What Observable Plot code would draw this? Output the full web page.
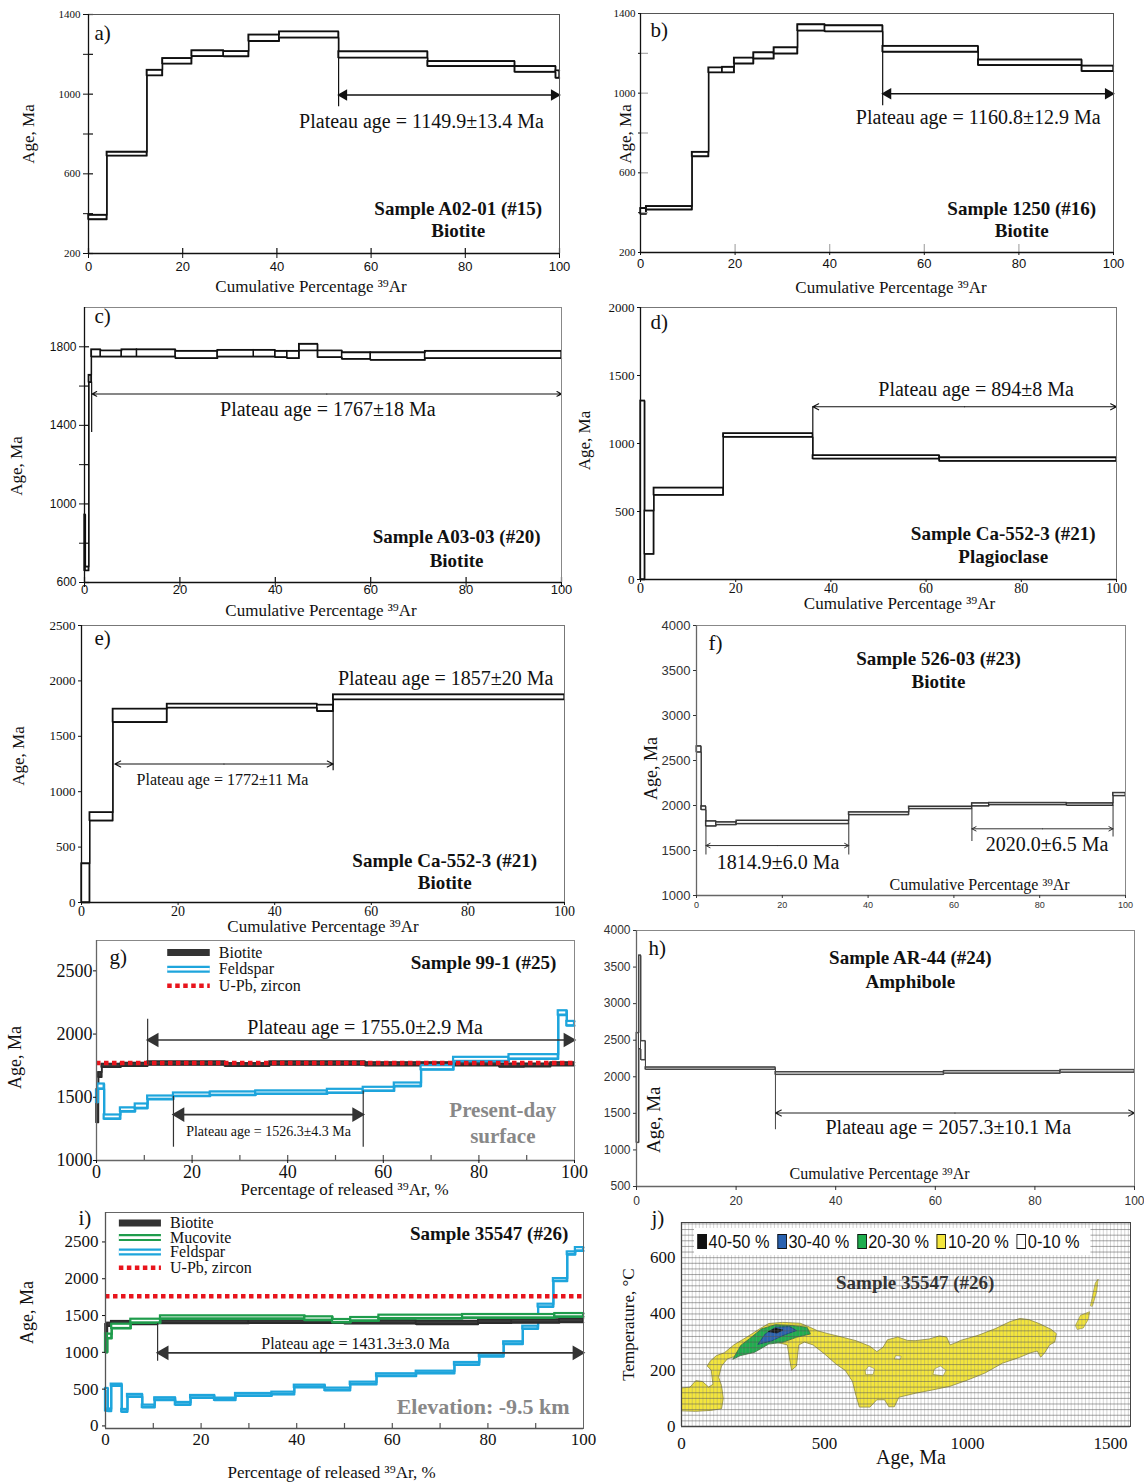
<!DOCTYPE html>
<html><head><meta charset="utf-8">
<script src="https://cdn.jsdelivr.net/npm/d3@7"></script>
<script src="https://cdn.jsdelivr.net/npm/@observablehq/plot@0.6"></script>
<style>
html,body{margin:0;padding:0;background:#fff}
body{position:relative;width:1144px;height:1482px;overflow:hidden}
.lg{position:absolute;display:flex;align-items:center;background:#fff;font-family:'Liberation Sans',Arial,sans-serif;font-size:19px;color:#111;white-space:nowrap;padding:0 4px;transform:scaleX(0.86);transform-origin:0 50%}
.lg .sq{display:inline-block;flex:0 0 auto;width:11px;height:15px;border:1px solid #111;margin-right:2px;box-sizing:border-box}
.lg .it{flex:0 0 auto;margin-right:9px}
</style></head><body>
<script>
const SERIF = "'Liberation Serif','Times New Roman',serif";
const SANS = "'Liberation Sans',Arial,sans-serif";

// ---------- common tick lists ----------
const pctTicks = [0, 20, 40, 60, 80, 100];
const pctMinor = [10, 20, 30, 40, 50, 60, 70, 80, 90];

// ---------- a) Sample A02-01 ----------
const aX  = [0, 3.9, 12.4, 15.7, 21.9, 28.7, 34, 40.5, 53.1, 72, 90.5, 99.2, 100];
const aHi = [393, 710, 1121, 1180, 1219, 1215, 1298, 1314, 1214, 1165, 1140, 1118];
const aLo = [371, 690, 1093, 1152, 1190, 1189, 1266, 1283, 1182, 1140, 1111, 1081];
const aArrow = [53.1, 100, 996];
const aVert = [[53.1, 937, 1182]];
const aNote = [[70.7, 862, "Plateau age = 1149.9±13.4 Ma"]];
const aTitle = [[78.5, 425, "Sample A02-01 (#15)"], [78.5, 315, "Biotite"]];
const aYTicks = [200, 400, 600, 800, 1000, 1200, 1400];
const aYLab = [200, 600, 1000, 1400];

// ---------- b) Sample 1250 ----------
const bX  = [0, 1.2, 10.9, 14.4, 17.3, 19.8, 23.9, 28.2, 33.2, 39, 51.2, 71.4, 93.3, 100];
const bHi = [422, 432, 704, 1128, 1131, 1177, 1204, 1229, 1345, 1340, 1236, 1168, 1137];
const bLo = [393, 415, 682, 1103, 1103, 1148, 1173, 1198, 1313, 1309, 1207, 1140, 1110];
const bArrow = [51.2, 100, 997];
const bVert = [[51.2, 937, 1207]];
const bNote = [[71.4, 877, "Plateau age = 1160.8±12.9 Ma"]];
const bTitle = [[80.6, 420, "Sample 1250 (#16)"], [80.6, 310, "Biotite"]];

// ---------- c) Sample A03-03 ----------
const cX  = [0, 0.2, 0.9, 1.45, 3.4, 7.8, 11, 19.1, 27.9, 35.5, 40, 42.5, 45, 48.9, 54, 60, 71.4, 100];
const cHi = [945, 680, 1656, 1786, 1780, 1786, 1786, 1778, 1783, 1783, 1778, 1778, 1814, 1780, 1771, 1771, 1778];
const cLo = [660, 660, 1619, 1749, 1749, 1749, 1749, 1741, 1749, 1749, 1746, 1741, 1780, 1746, 1737, 1732, 1741];
const cArrow = [1.6, 100, 1560];
const cVert = [[1.5, 1364, 1619]];
const cNote = [[51, 1479, "Plateau age = 1767±18 Ma"]];
const cTitle = [[78, 830, "Sample A03-03 (#20)"], [78, 712, "Biotite"]];
const cYTicks = [600, 800, 1000, 1200, 1400, 1600, 1800];
const cYLab = [600, 1000, 1400, 1800];

// ---------- d) Sample Ca-552-3 plagioclase ----------
const dX  = [0, 0.9, 2.8, 17.4, 36.2, 62.8, 100];
const dHi = [1314, 505, 674, 1074, 912, 897];
const dLo = [0, 186, 620, 1047, 887, 870];
const dArrow = [36.2, 100, 1270];
const dVert = [[36.2, 1074, 1270]];
const dNote = [[70.5, 1397, "Plateau age = 894±8 Ma"]];
const dTitle = [[76.2, 338, "Sample Ca-552-3 (#21)"], [76.2, 167, "Plagioclase"]];

// ---------- e) Sample Ca-552-3 biotite ----------
const eX  = [0, 1.7, 6.5, 17.7, 48.8, 52.1, 100];
const eHi = [352, 813, 1747, 1792, 1783, 1877];
const eLo = [0, 738, 1627, 1756, 1726, 1831];
const eArrow = [6.9, 52.1, 1250];
const eVert = [[52.1, 1190, 1831]];
const eNoteSmall = [[29.2, 1105, "Plateau age = 1772±11 Ma"]];
const eNoteBig = [[75.4, 2018, "Plateau age = 1857±20 Ma"]];
const eTitle = [[75.2, 377, "Sample Ca-552-3 (#21)"], [75.2, 181, "Biotite"]];

// ---------- f) Sample 526-03 ----------
const fX  = [0, 1.1, 2.2, 4.6, 9.3, 35.5, 49.5, 64.2, 68.2, 86.3, 97.1, 100];
const fHi = [2659, 1992, 1826, 1815, 1833, 1926, 1989, 2026, 2030, 2026, 2141];
const fLo = [2592, 1952, 1770, 1785, 1796, 1896, 1963, 1993, 2007, 2000, 2107];
const fArrows = [[2.2, 35.5, 1555], [64.2, 97.1, 1741]];
const fVert = [[2.2, 1450, 1770], [35.5, 1450, 1796], [64.2, 1600, 1963], [97.1, 1650, 2000]];
const fNote = [[19, 1363, "1814.9±6.0 Ma"], [81.7, 1570, "2020.0±6.5 Ma"]];
const fTitle = [[56.4, 3630, "Sample 526-03 (#23)"], [56.4, 3378, "Biotite"]];
const fXTitle = [[66, 1118, "Cumulative Percentage ³⁹Ar"]];
const fYTicks = [1000, 1500, 2000, 2500, 3000, 3500, 4000];

// ---------- g) Sample 99-1 ----------
const gBX  = [0, 0.4, 1.1, 5.1, 10.7, 26.9, 36.2, 56.2, 84.3, 89.5, 95, 100];
const gBHi = [1560, 1697, 1763, 1771, 1782, 1768, 1782, 1775, 1765, 1765, 1775];
const gBLo = [1300, 1658, 1737, 1745, 1755, 1745, 1755, 1750, 1740, 1742, 1750];
const gFX  = [0, 0.3, 1.6, 5, 8.1, 10.7, 16.1, 23.8, 33.3, 48.3, 55.8, 62.3, 67.9, 74.7, 86.3, 96.6, 98.4, 100];
const gFHi = [1553, 1605, 1360, 1416, 1447, 1510, 1534, 1542, 1550, 1563, 1579, 1613, 1750, 1816, 1837, 2184, 2100];
const gFLo = [1460, 1566, 1329, 1387, 1413, 1484, 1508, 1516, 1526, 1534, 1550, 1587, 1718, 1784, 1803, 2150, 2066];
const gZircon = [1772];
const gArrow1 = [10.7, 100, 1953];
const gArrow2 = [16.1, 55.8, 1363];
const gVert = [[10.7, 1755, 2118], [16.1, 1105, 1508], [55.8, 1105, 1550]];
const gNoteBig = [[56.2, 2053, "Plateau age = 1755.0±2.9 Ma"]];
const gNoteSmall = [[36, 1232, "Plateau age = 1526.3±4.3 Ma"]];
const gGray = [[85, 1400, "Present-day"], [85, 1195, "surface"]];
const gTitle = [[96.2, 2566, "Sample 99-1 (#25)"]];
const gLegend = [["Biotite", 2645, "bio"], ["Feldspar", 2513, "fsp"], ["U-Pb, zircon", 2382, "zr"]];
const gLegX = [14.9, 23.8, 25.6];

// ---------- h) Sample AR-44 ----------
const hX  = [0, 0.5, 0.9, 1.8, 27.9, 61.7, 85.1, 100];
const hHi = [2600, 3660, 2490, 2130, 2065, 2080, 2095];
const hLo = [1100, 2380, 2230, 2100, 2030, 2047, 2060];
const hArrow = [27.9, 100, 1504];
const hVert = [[27.9, 1276, 2030]];
const hNote = [[62.6, 1300, "Plateau age = 2057.3±10.1 Ma"]];
const hTitle = [[55, 3621, "Sample AR-44 (#24)"], [55, 3302, "Amphibole"]];
const hXTitle = [[48.8, 669, "Cumulative Percentage ³⁹Ar"]];
const hYTitle = [[3.5, 1413, "Age, Ma"]];
const hYTicks = [500, 1000, 1500, 2000, 2500, 3000, 3500, 4000];

// ---------- i) Sample 35547 ----------
const iBX  = [0, 0.4, 1.2, 10.9, 30, 50, 65, 78, 85, 95, 100];
const iBHi = [1380, 1400, 1423, 1437, 1440, 1432, 1425, 1440, 1445, 1455];
const iBLo = [1000, 1355, 1378, 1391, 1395, 1388, 1380, 1395, 1400, 1405];
const iMX  = [0, 0.4, 1.3, 5.3, 11.5, 41.7, 47.5, 51.3, 57.2, 74.7, 94, 100];
const iMHi = [1250, 1247, 1382, 1450, 1495, 1482, 1446, 1473, 1505, 1514, 1527];
const iMLo = [1000, 1188, 1324, 1400, 1455, 1437, 1405, 1428, 1459, 1468, 1482];
const iFX  = [0, 0.5, 1.2, 3.4, 4.6, 7.7, 10.3, 14.6, 17.8, 22.8, 27.2, 34.8, 39.5, 45.9, 51.2, 56.7, 65, 73, 78.2, 83.3, 87.3, 90.5, 93.7, 96.6, 98.3, 100];
const iFHi = [509, 230, 568, 224, 428, 283, 382, 319, 414, 378, 441, 459, 554, 514, 595, 708, 744, 862, 975, 1143, 1355, 1654, 2002, 2364, 2423];
const iFLo = [206, 200, 545, 192, 396, 251, 351, 287, 382, 350, 409, 427, 523, 482, 563, 676, 713, 830, 943, 1111, 1319, 1618, 1966, 2328, 2378];
const iZircon = [1762];
const iArrow = [10.9, 100, 993];
const iVert = [[10.9, 880, 1391]];
const iNote = [[52.3, 1120, "Plateau age = 1431.3±3.0 Ma"]];
const iGray = [[79, 260, "Elevation: -9.5 km"]];
const iTitle = [[96.8, 2613, "Sample 35547 (#26)"]];
const iLegend = [["Biotite", 2758, "bio"], ["Mucovite", 2559, "mus"], ["Feldspar", 2364, "fsp"], ["U-Pb, zircon", 2150, "zr"]];
const iLegX = [2.9, 11.7, 13.5];
const iYTicks = [0, 500, 1000, 1500, 2000, 2500];

// ---------- j) age–temperature contour map ----------
const jYellow = [[0,57],[0,137],[30,140],[50,163],[73,160],[95,140],[110,150],[104,200],[90,215],[100,232],[122,252],[150,262],[183,290],[232,320],[270,345],[305,366],[354,370],[415,367],[451,352],[476,340],[512,330],[560,318],[610,305],[659,285],[683,266],[705,282],[720,308],[756,318],[790,306],[817,305],[866,311],[902,322],[927,318],[939,290],[960,298],[976,306],[1037,324],[1098,348],[1147,372],[1183,384],[1214,380],[1250,366],[1293,345],[1311,330],[1305,300],[1287,290],[1270,262],[1256,246],[1244,268],[1220,262],[1183,246],[1122,225],[1061,190],[1000,165],[939,143],[878,130],[817,118],[760,104],[744,70],[725,70],[710,95],[683,95],[659,69],[622,69],[610,110],[598,160],[573,199],[540,222],[500,258],[460,290],[430,300],[410,290],[402,215],[385,200],[378,240],[370,290],[330,300],[290,305],[256,290],[220,270],[183,248],[160,240],[140,215],[130,175],[140,145],[146,100],[140,63],[100,57],[50,54]];
const jHoles = [
  [[645,185],[670,185],[675,205],[655,215],[643,200]],
  [[880,185],[915,180],[925,200],[905,215],[885,205]],
  [[745,240],[765,238],[768,250],[750,252]]
];
const jSmall = [
  [[1378,360],[1395,395],[1427,408],[1422,380],[1405,350],[1385,345]],
  [[1430,430],[1447,510],[1457,524],[1452,480],[1437,428]]
];
const jGreen = [[180,240],[207,288],[244,317],[280,347],[329,362],[384,359],[439,353],[451,329],[402,317],[354,299],[305,293],[256,264],[207,252]];
const jBlue = [[268,293],[293,329],[329,353],[378,355],[402,341],[354,323],[317,305]];
const jBlack = [[305,338],[329,349],[354,343],[335,333]];
const jTitle = [[817, 512, "Sample 35547 (#26)"]];
const jGridT = d3.range(0, 725, 20);
const jGridA = d3.range(0, 1570, 12.5);
const jLegend = [["40-50 %", "#111"], ["30-40 %", "#2a62b0"], ["20-30 %", "#1fae4e"], ["10-20 %", "#f4e63c"], ["0-10 %", "#fff"]];

// ================= helpers =================
function stepMarks(xb, hi, lo, o = {}) {
  const stroke = o.stroke ?? "#111", sw = o.sw ?? 1.3, fill = o.fill ?? "none";
  const rows = hi.map((h, i) => ({x1: xb[i], x2: xb[i + 1], hi: h, lo: lo[i]}));
  const env = arr => xb.map((x, i) => ({x, y: arr[Math.min(i, arr.length - 1)]}));
  return [
    Plot.line(env(hi), {x: "x", y: "y", curve: "step-after", stroke, strokeWidth: sw}),
    Plot.line(env(lo), {x: "x", y: "y", curve: "step-after", stroke, strokeWidth: sw}),
    Plot.rect(rows, {x1: "x1", x2: "x2", y1: "lo", y2: "hi", fill, stroke, strokeWidth: sw})
  ];
}
function vrules(rows, o = {}) {
  return Plot.ruleX(rows, {x: d => d[0], y1: d => d[1], y2: d => d[2], stroke: o.stroke ?? "#111", strokeWidth: o.sw ?? 1.2});
}
function arrowFilled(row, o = {}) {
  const col = o.color ?? "#111", r = o.r ?? 5.5;
  return [
    Plot.ruleY([row], {y: d => d[2], x1: d => d[0], x2: d => d[1], stroke: col, strokeWidth: o.sw ?? 1.6}),
    Plot.dot([row], {x: d => d[0], y: d => d[2], symbol: "triangle2", rotate: -90, r, fill: col, stroke: "none", dx: r * 0.95}),
    Plot.dot([row], {x: d => d[1], y: d => d[2], symbol: "triangle2", rotate: 90, r, fill: col, stroke: "none", dx: -r * 0.95})
  ];
}
function arrowsOpen(rows, o = {}) {
  const opt = {y1: d => d[2], y2: d => d[2], stroke: o.color ?? "#111", strokeWidth: o.sw ?? 1.1, headLength: o.head ?? 9, headAngle: 55};
  return [
    Plot.arrow(rows, {...opt, x1: d => (d[0] + d[1]) / 2, x2: d => d[0]}),
    Plot.arrow(rows, {...opt, x1: d => (d[0] + d[1]) / 2, x2: d => d[1]})
  ];
}
function txt(rows, o = {}) {
  return Plot.text(rows, {x: d => d[0], y: d => d[1], text: d => d[2], fontFamily: o.ff ?? SERIF, fontSize: o.fs ?? 20, fontWeight: o.fw ?? "normal", fill: o.fill ?? "#111", textAnchor: o.anchor ?? "middle", lineAnchor: "middle", rotate: o.rotate ?? 0});
}
function legendMarks(rows, lx) {
  const m = [];
  for (const [label, y, kind] of rows) {
    const r = [[lx[0], lx[1], y]];
    const rule = (stroke, sw, dash) => Plot.ruleY(r, {y: d => d[2], x1: d => d[0], x2: d => d[1], stroke, strokeWidth: sw, strokeDasharray: dash});
    if (kind === "bio") m.push(rule("#333", 7));
    if (kind === "fsp") { m.push(rule("#1ea5dc", 7)); m.push(rule("#fff", 2.6)); }
    if (kind === "mus") { m.push(rule("#1f9c4c", 7)); m.push(rule("#fff", 2.6)); }
    if (kind === "zr") m.push(rule("#e8141c", 4.5, "4.5,3.5"));
    m.push(Plot.text([[lx[2], y, label]], {x: d => d[0], y: d => d[1], text: d => d[2], textAnchor: "start", lineAnchor: "middle", fontFamily: SERIF, fontSize: 16, fill: "#111"}));
  }
  return m;
}
function poly(pts, fill, stroke, sw = 0.8) {
  return Plot.line(pts, {x: d => d[0], y: d => d[1], curve: "linear-closed", fill, stroke, strokeWidth: sw});
}

function panel(c) {
  const [L, T, R, B] = c.frame;
  const fw = R - L, fh = B - T;
  const mL = 100, mR = 30, mT = 30, mB = 70;
  const tc = c.tickColor ?? "#111";
  const m = [...c.marks];
  if (c.innerX) m.push(Plot.tickX(c.innerX, {x: d => d, insetTop: fh - (c.innerLen ?? 5), stroke: c.innerColor ?? tc, strokeWidth: 1.2}));
  if (c.innerY) m.push(Plot.tickY(c.innerY, {y: d => d, insetRight: fw - (c.innerLen ?? 5), stroke: c.innerColor ?? tc, strokeWidth: 1.2}));
  m.push(Plot.frame({stroke: c.frameColor ?? "#555", strokeWidth: 1}));
  m.push(Plot.ruleX([c.xd[0]], {stroke: c.axisColor ?? "#111", strokeWidth: 1.3}));
  m.push(Plot.ruleY([c.yd[0]], {stroke: c.axisColor ?? "#111", strokeWidth: 1.3}));
  const fmt = lab => d => (lab ? (lab.includes(d) ? String(d) : "") : String(d));
  m.push(Plot.axisX({ticks: c.xt, tickSize: c.xts ?? 5, tickPadding: c.xtp ?? 3, tickFormat: fmt(c.xlab), fontSize: c.xfs, fontFamily: c.xff, color: tc, label: null}));
  m.push(Plot.axisY({ticks: c.yt, tickSize: c.yts ?? 5, tickPadding: c.ytp ?? 3, tickFormat: fmt(c.ylab), fontSize: c.yfs, fontFamily: c.yff, color: tc, label: null}));
  if (c.xTitle) m.push(Plot.text([c.xTitle[0]], {text: d => d, frameAnchor: "bottom", textAnchor: "middle", lineAnchor: "middle", dx: c.xTitle[1], dy: c.xTitle[2], fontSize: c.xTitle[3], fontFamily: SERIF, fill: "#111"}));
  if (c.yTitle) m.push(Plot.text([c.yTitle[0]], {text: d => d, frameAnchor: "left", textAnchor: "middle", lineAnchor: "middle", rotate: -90, dx: c.yTitle[1], dy: c.yTitle[2], fontSize: c.yTitle[3], fontFamily: SERIF, fill: "#111"}));
  if (c.tag) m.push(Plot.text([c.tag[0]], {text: d => d, frameAnchor: "top-left", textAnchor: "start", lineAnchor: "middle", dx: c.tag[1], dy: c.tag[2], fontSize: c.tag[3] ?? 21, fontFamily: SERIF, fill: "#111"}));
  const svg = Plot.plot({
    width: fw + mL + mR, height: fh + mT + mB,
    marginLeft: mL, marginRight: mR, marginTop: mT, marginBottom: mB,
    x: {domain: c.xd}, y: {domain: c.yd},
    style: {overflow: "visible", background: "transparent", fontFamily: SANS},
    marks: m
  });
  svg.style.position = "absolute";
  svg.style.left = (L - mL) + "px";
  svg.style.top = (T - mT) + "px";
  document.body.appendChild(svg);
}

const XT = "Cumulative Percentage ³⁹Ar";
const XT2 = "Percentage of released ³⁹Ar, %";
const bold = {fw: "bold", fs: 19};

// a
panel({frame: [88, 14, 559, 253], xd: [0, 100], yd: [200, 1400],
  xt: pctTicks, xfs: 13, xff: SANS, yt: aYTicks, ylab: aYLab, yfs: 11, yff: SERIF, yts: 5,
  innerX: pctTicks, innerY: aYTicks, innerLen: 5,
  xTitle: [XT, -13, 33, 17], yTitle: ["Age, Ma", -60, 0, 17], tag: ["a)", 6, 19, 21],
  marks: [...stepMarks(aX, aHi, aLo, {sw: 1.4}), vrules(aVert), ...arrowFilled(aArrow), txt(aNote), txt(aTitle, bold)]});

// b
panel({frame: [640, 13, 1113, 252], xd: [0, 100], yd: [200, 1400],
  xt: pctTicks, xfs: 13, xff: SANS, xts: 3, yt: aYTicks, ylab: aYLab, yfs: 11, yff: SERIF, yts: 2,
  innerX: pctTicks.slice(1, 5), innerY: aYTicks.slice(1, 6), innerLen: 8, innerColor: "#aaa",
  xTitle: [XT, 14, 35, 17], yTitle: ["Age, Ma", -15, 1, 17], tag: ["b)", 10, 17, 21],
  marks: [...stepMarks(bX, bHi, bLo, {sw: 1.4}), vrules(bVert), ...arrowFilled(bArrow), txt(bNote), txt(bTitle, bold)]});

// c
panel({frame: [84, 307, 561, 582], xd: [0, 100], yd: [600, 2000],
  xt: pctTicks, xfs: 13, xff: SANS, xts: 5, xtp: -3, yt: cYTicks, ylab: cYLab, yfs: 12, yff: SANS, yts: 5,
  innerX: pctTicks, innerY: cYTicks, innerLen: 5, frameColor: "#888",
  xTitle: [XT, -2, 28, 17], yTitle: ["Age, Ma", -68, 21, 17], tag: ["c)", 10, 9, 21],
  marks: [...stepMarks(cX, cHi, cLo, {sw: 1.3}), vrules(cVert), ...arrowsOpen([cArrow], {head: 7}), txt(cNote), txt(cTitle, bold)]});

// d
panel({frame: [640, 307, 1116, 579], xd: [0, 100], yd: [0, 2000],
  xt: pctTicks, xfs: 14, xff: SERIF, xts: 3, xtp: 1, yt: [0, 500, 1000, 1500, 2000], yfs: 13, yff: SERIF, yts: 3,
  frameColor: "#777",
  xTitle: [XT, 21, 24, 17], yTitle: ["Age, Ma", -56, -3, 17], tag: ["d)", 10, 15, 21],
  marks: [...stepMarks(dX, dHi, dLo, {sw: 1.3}), vrules(dVert), ...arrowsOpen([dArrow]), txt(dNote), txt(dTitle, bold)]});

// e
panel({frame: [81, 625, 564, 902], xd: [0, 100], yd: [0, 2500],
  xt: pctTicks, xfs: 14, xff: SERIF, xts: 3, xtp: 1, yt: [0, 500, 1000, 1500, 2000, 2500], yfs: 13, yff: SERIF, yts: 3,
  frameColor: "#777",
  xTitle: [XT, 0, 24, 17], yTitle: ["Age, Ma", -63, -8, 17], tag: ["e)", 13, 13, 21],
  marks: [...stepMarks(eX, eHi, eLo, {sw: 1.3}), vrules(eVert), ...arrowsOpen([eArrow]), txt(eNoteSmall, {fs: 16}), txt(eNoteBig), txt(eTitle, bold)]});

// f
panel({frame: [696, 625, 1125, 895], xd: [0, 100], yd: [1000, 4000],
  xt: pctTicks, xfs: 9, xff: SANS, xts: 3, yt: fYTicks, yfs: 13, yff: SANS, yts: 3, tickColor: "#333",
  frameColor: "#888", axisColor: "#666",
  yTitle: ["Age, Ma", -45, 8, 18], tag: ["f)", 12, 18, 21],
  marks: [...stepMarks(fX, fHi, fLo, {sw: 1, stroke: "#333"}), vrules(fVert, {sw: 1, stroke: "#333"}), ...arrowsOpen(fArrows, {sw: 1, color: "#333", head: 7}), txt(fNote), txt(fTitle, bold), txt(fXTitle, {fs: 16})]});

// g
panel({frame: [96, 940, 574, 1160], xd: [0, 100], yd: [1000, 2740],
  xt: pctTicks, xfs: 18, xff: SERIF, xts: 3, xtp: 2, yt: [1000, 1500, 2000, 2500], yfs: 18, yff: SERIF, yts: 3, ytp: 1,
  innerX: pctMinor, innerLen: 5, innerColor: "#555", frameColor: "#888", axisColor: "#666",
  xTitle: [XT2, 9, 29, 17], yTitle: ["Age, Ma", -81, 7, 18], tag: ["g)", 13, 17, 21],
  marks: [
    ...stepMarks(gBX, gBHi, gBLo, {stroke: "#2b2b2b", fill: "#3a3a3a", sw: 1.6}),
    ...stepMarks(gFX, gFHi, gFLo, {stroke: "#1ea5dc", fill: "#fff", sw: 2.2}),
    Plot.ruleY(gZircon, {stroke: "#e8141c", strokeWidth: 4.5, strokeDasharray: "4.5,3.5"}),
    vrules(gVert, {stroke: "#333"}),
    ...arrowFilled(gArrow1, {color: "#333", r: 7}), ...arrowFilled(gArrow2, {color: "#333", r: 7}),
    txt(gNoteBig), txt(gNoteSmall, {fs: 14}), txt(gGray, {fw: "bold", fs: 21, fill: "#888"}),
    txt(gTitle, {fw: "bold", fs: 19, anchor: "end"}), ...legendMarks(gLegend, gLegX)
  ]});

// h
panel({frame: [636, 930, 1134, 1186], xd: [0, 100], yd: [500, 4000],
  xt: pctTicks, xfs: 12, xff: SANS, xts: 4, xtp: 6, yt: hYTicks, yfs: 12, yff: SANS, yts: 3, tickColor: "#333",
  frameColor: "#888", axisColor: "#666", tag: ["h)", 12, 18, 21],
  marks: [...stepMarks(hX, hHi, hLo, {sw: 1, stroke: "#444"}), vrules(hVert, {sw: 1, stroke: "#444"}), ...arrowsOpen([hArrow], {sw: 1.1, color: "#222"}),
    txt(hNote), txt(hTitle, bold), txt(hXTitle, {fs: 16}), txt(hYTitle, {fs: 19, rotate: -90})]});

// i
panel({frame: [105, 1212, 583, 1428], xd: [0, 100], yd: [-35, 2900],
  xt: pctTicks, xfs: 17, xff: SERIF, xts: 0, xtp: 4, yt: iYTicks, yfs: 17, yff: SERIF, yts: 3, ytp: 4,
  innerX: pctMinor, innerLen: 5, innerColor: "#555", frameColor: "#666", axisColor: "#555",
  xTitle: [XT2, -13, 44, 17], yTitle: ["Age, Ma", -78, -8, 18], tag: ["i)", -27, 6, 21],
  marks: [
    ...stepMarks(iFX, iFHi, iFLo, {stroke: "#1ea5dc", fill: "#fff", sw: 2.2}),
    ...stepMarks(iBX, iBHi, iBLo, {stroke: "#2b2b2b", fill: "#3a3a3a", sw: 1.6}),
    ...stepMarks(iMX, iMHi, iMLo, {stroke: "#1f9c4c", fill: "#fff", sw: 2.2}),
    Plot.ruleY(iZircon, {stroke: "#e8141c", strokeWidth: 4.5, strokeDasharray: "4.5,3.5"}),
    vrules(iVert, {stroke: "#333"}),
    ...arrowFilled(iArrow, {color: "#333", r: 7}),
    txt(iNote, {fs: 16}), txt(iGray, {fw: "bold", fs: 22, fill: "#888"}),
    txt(iTitle, {fw: "bold", fs: 19, anchor: "end"}), ...legendMarks(iLegend, iLegX)
  ]});

// j
panel({frame: [681, 1222, 1130, 1426], xd: [0, 1570], yd: [0, 725],
  xt: [0, 500, 1000, 1500], xfs: 17, xff: SERIF, xts: 0, xtp: 10, yt: [0, 200, 400, 600], yfs: 17, yff: SERIF, yts: 0, ytp: 6,
  frameColor: "#444", axisColor: "#444",
  xTitle: ["Age, Ma", 5, 31, 20], yTitle: ["Temperature, °C", -53, 0, 17], tag: ["j)", -30, -4, 21],
  marks: [
    poly(jYellow, "#f4e63c", "#8f8a3a"),
    ...jHoles.map(h => poly(h, "#fff", "#8f8a3a", 0.6)),
    ...jSmall.map(s => poly(s, "#f4e63c", "#8f8a3a", 0.6)),
    poly(jGreen, "#1fae4e", "#3c6b3c"),
    poly(jBlue, "#2a62b0", "#203f70"),
    poly(jBlack, "#111", "#111"),
    Plot.ruleX(jGridA, {x: d => d, stroke: "#888", strokeWidth: 0.5, strokeOpacity: 0.7}),
    Plot.ruleY(jGridT, {y: d => d, stroke: "#555", strokeWidth: 0.7, strokeOpacity: 0.75}),
    txt(jTitle, {fw: "bold", fs: 19, fill: "#333"})
  ]});

// j legend (HTML box)
const lg = document.createElement("div");
lg.className = "lg";
Object.assign(lg.style, {left: "694px", top: "1228px", height: "27px"});
for (const [label, col] of jLegend) {
  const sq = document.createElement("span"); sq.className = "sq"; sq.style.background = col; lg.appendChild(sq);
  const t = document.createElement("span"); t.className = "it"; t.textContent = label; lg.appendChild(t);
}
document.body.appendChild(lg);
</script>
</body></html>
